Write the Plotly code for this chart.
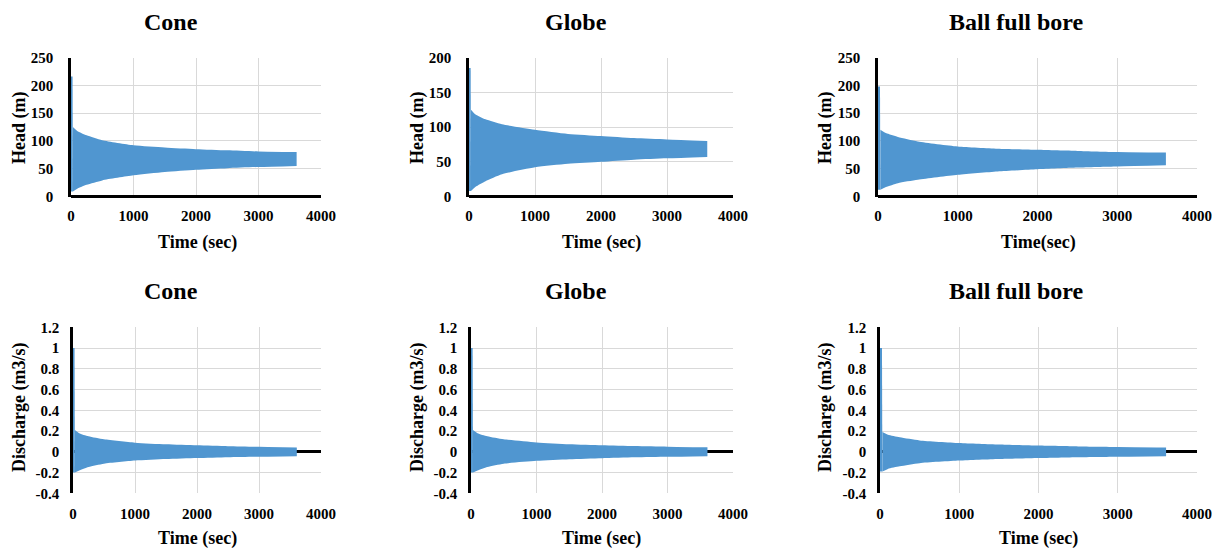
import plotly.graph_objects as go

# ---------------- data ----------------
panel_titles = ["Cone", "Globe", "Ball full bore", "Cone", "Globe", "Ball full bore"]
y_titles = ["Head (m)", "Head (m)", "Head (m)",
            "Discharge (m3/s)", "Discharge (m3/s)", "Discharge (m3/s)"]
x_titles = ["Time (sec)", "Time (sec)", "Time(sec)",
            "Time (sec)", "Time (sec)", "Time (sec)"]

# envelope sample times (s)
t_env = [30, 100, 250, 500, 1000, 1500, 2000, 2500, 3000, 3610]
spike_end = 25

# Head envelopes (m)
cone_head_upper = [125, 118, 110, 101, 92, 88, 85, 83, 81, 80]
cone_head_lower = [9, 14, 21, 29, 38, 44, 48, 51, 53, 55]
cone_head_spike = 216

globe_head_upper = [125, 118, 111, 104, 96, 90, 87, 84, 82, 80]
globe_head_lower = [8, 14, 22, 32, 42, 47, 50, 53, 55, 57]
globe_head_spike = 185

ball_head_upper = [120, 114, 107, 99, 90, 86, 84, 82, 80, 79]
ball_head_lower = [12, 17, 24, 30, 39, 45, 49, 52, 54, 56]
ball_head_spike = 198

# Discharge envelopes (m3/s)
cone_q_upper = [0.21, 0.18, 0.15, 0.12, 0.088, 0.072, 0.062, 0.054, 0.048, 0.042]
cone_q_lower = [-0.20, -0.18, -0.147, -0.115, -0.085, -0.07, -0.06, -0.052, -0.047, -0.042]
cone_q_spike = 1.0

globe_q_upper = [0.21, 0.18, 0.15, 0.12, 0.09, 0.073, 0.063, 0.055, 0.049, 0.043]
globe_q_lower = [-0.20, -0.18, -0.147, -0.115, -0.087, -0.071, -0.061, -0.053, -0.048, -0.042]
globe_q_spike = 1.0

ball_q_upper = [0.19, 0.165, 0.14, 0.11, 0.085, 0.07, 0.06, 0.052, 0.047, 0.042]
ball_q_lower = [-0.19, -0.165, -0.14, -0.11, -0.085, -0.07, -0.06, -0.052, -0.047, -0.042]
ball_q_spike = 1.0

x_tickvals = [0, 1000, 2000, 3000, 4000]
x_ticktext = ["0", "1000", "2000", "3000", "4000"]
head_ticks_250 = [0, 50, 100, 150, 200, 250]
head_ticks_200 = [0, 50, 100, 150, 200]
q_tickvals = [-0.4, -0.2, 0, 0.2, 0.4, 0.6, 0.8, 1.0, 1.2]
q_ticktext = ["-0.4", "-0.2", "0", "0.2", "0.4", "0.6", "0.8", "1", "1.2"]

series = [
    (cone_head_upper, cone_head_lower, cone_head_spike),
    (globe_head_upper, globe_head_lower, globe_head_spike),
    (ball_head_upper, ball_head_lower, ball_head_spike),
    (cone_q_upper, cone_q_lower, cone_q_spike),
    (globe_q_upper, globe_q_lower, globe_q_spike),
    (ball_q_upper, ball_q_lower, ball_q_spike),
]
y_ranges = [[0, 250], [0, 200], [0, 250], [-0.4, 1.2], [-0.4, 1.2], [-0.4, 1.2]]
y_ticks = [head_ticks_250, head_ticks_200, head_ticks_250, q_tickvals, q_tickvals, q_tickvals]
y_ticktexts = [[str(v) for v in head_ticks_250], [str(v) for v in head_ticks_200],
               [str(v) for v in head_ticks_250], q_ticktext, q_ticktext, q_ticktext]

# ---------------- layout geometry (pixels in the 1220x551 page) ----------------
PAGE_W, PAGE_H = 1220, 551
OFF = 8                       # page body margin
W, H = PAGE_W - OFF, PAGE_H - OFF
px_x = [(71, 321), (469, 733), (878, 1197), (73, 321), (471, 733), (880, 1197)]
px_y = [(57.5, 196.5)] * 3 + [(327.3, 493.3)] * 3
title_px = [(171, 22), (576, 22), (1016, 22), (171, 291), (576, 291), (1016, 291)]
ytitle_px = [(19, 128), (417, 128), (825, 128), (19, 408), (417, 408), (825, 408)]
xtitle_px = [(197, 242), (601, 242), (1038, 242), (197, 538), (601, 538), (1038, 538)]


def fx(px):
    return (px - OFF) / W


def fy(py):
    return 1 - (py - OFF) / H


FILL = "#5096D0"
GRID = "#d9d9d9"
FONT = "Liberation Serif"

fig = go.Figure()
layout = dict(
    width=W, height=H, margin=dict(l=0, r=0, t=0, b=0, pad=0, autoexpand=False),
    paper_bgcolor="white", plot_bgcolor="white", showlegend=False,
    font=dict(family=FONT, color="black"),
)
annotations = []

for i in range(6):
    k = "" if i == 0 else str(i + 1)
    xa, ya = "x" + k, "y" + k
    up, lo, sp = series[i]
    # lower boundary
    fig.add_trace(go.Scatter(x=t_env, y=lo, mode="lines", line=dict(width=0, color=FILL, shape="spline", smoothing=0.6),
                             xaxis=xa, yaxis=ya, hoverinfo="skip"))
    # upper boundary filled to lower
    fig.add_trace(go.Scatter(x=t_env, y=up, mode="lines", line=dict(width=0, color=FILL, shape="spline", smoothing=0.6),
                             fill="tonexty", fillcolor=FILL, xaxis=xa, yaxis=ya, hoverinfo="skip"))
    # initial spike
    fig.add_trace(go.Scatter(x=[0, 0, spike_end, t_env[0], t_env[0]], y=[lo[0], sp, sp, up[0], lo[0]],
                             mode="lines", line=dict(width=0, color=FILL), fill="toself", fillcolor=FILL,
                             xaxis=xa, yaxis=ya, hoverinfo="skip"))

    x0, x1 = px_x[i]
    yt, yb = px_y[i]
    bottom = i >= 3
    layout["xaxis" + k] = dict(
        domain=[fx(x0), fx(x1)], anchor=ya, range=[0, 4000], automargin=False,
        tickvals=x_tickvals, ticktext=x_ticktext,
        showgrid=True, gridcolor=GRID, gridwidth=1, zeroline=False, showline=False,
        ticks="", ticklabelstandoff=8 if not bottom else 10,
        tickfont=dict(family=FONT, size=15, color="black", weight="bold"),
    )
    layout["yaxis" + k] = dict(
        domain=[fy(yb), fy(yt)], anchor=xa, range=y_ranges[i], automargin=False,
        tickvals=y_ticks[i], ticktext=y_ticktexts[i],
        showgrid=True, gridcolor=GRID, gridwidth=1,
        zeroline=True, zerolinecolor="black", zerolinewidth=2.5,
        showline=True, linecolor="black", linewidth=2.5,
        ticks="", ticklabelstandoff=12 if not bottom else 8,
        tickfont=dict(family=FONT, size=15, color="black", weight="bold"),
    )
    tx, ty = title_px[i]
    annotations.append(dict(text=panel_titles[i], x=fx(tx), y=fy(ty), xref="paper", yref="paper",
                            showarrow=False, xanchor="center", yanchor="middle",
                            font=dict(family=FONT, size=24, color="black", weight="bold")))
    yx, yy = ytitle_px[i]
    annotations.append(dict(text=y_titles[i], x=fx(yx), y=fy(yy), xref="paper", yref="paper",
                            showarrow=False, xanchor="center", yanchor="middle", textangle=-90,
                            font=dict(family=FONT, size=18, color="black", weight="bold")))
    xx, xy = xtitle_px[i]
    annotations.append(dict(text=x_titles[i], x=fx(xx), y=fy(xy), xref="paper", yref="paper",
                            showarrow=False, xanchor="center", yanchor="middle",
                            font=dict(family=FONT, size=18, color="black", weight="bold")))

layout["annotations"] = annotations
fig.update_layout(**layout)
fig.write_html("out.html")
